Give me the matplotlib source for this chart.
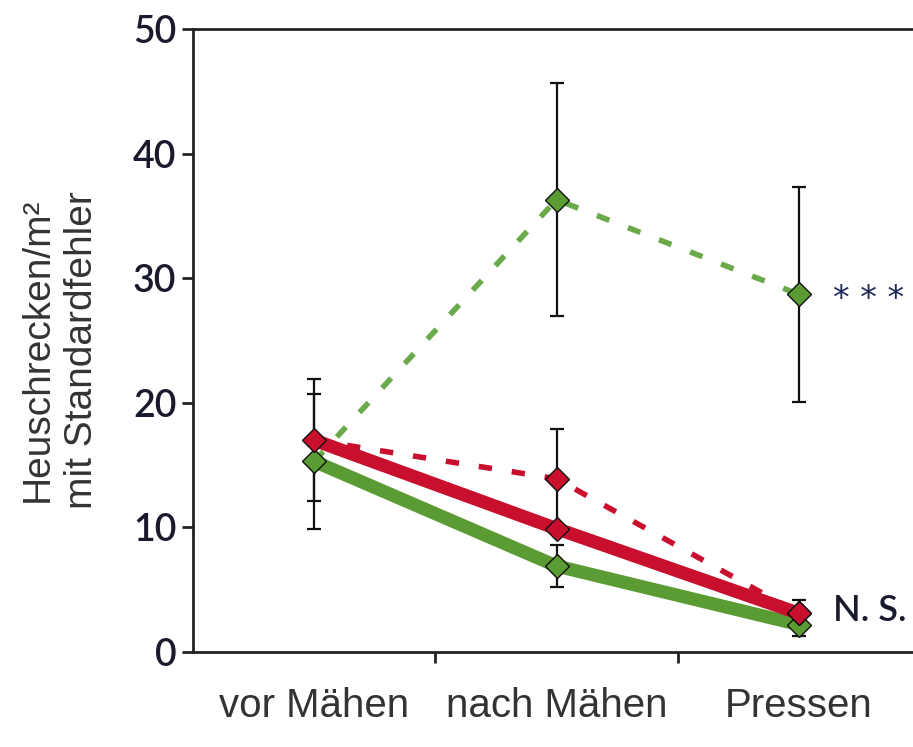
import matplotlib
matplotlib.use('Agg')
import matplotlib.pyplot as plt

# categories on the x axis
stages = ['vor Mähen', 'nach Mähen', 'Pressen']
xpos = [1, 2, 3]

# grasshoppers per m2 and standard errors
green_solid = [15.3, 6.9, 2.2]
green_solid_se = [5.4, 1.7, 0.9]
red_solid = [17.0, 9.9, 3.1]
red_solid_se = [4.9, None, 1.1]
red_dashed = [17.0, 13.9, 3.1]
red_dashed_se = [None, 4.0, None]
green_dashed = [15.3, 36.3, 28.7]
green_dashed_se = [None, 9.35, 8.6]

yticks = [0, 10, 20, 30, 40, 50]

RED = '#c8102e'
GREEN = '#5b9b34'
GREEN_D = '#6aaa4a'
INK = '#1a1a2e'

fig = plt.figure(figsize=(9.13, 7.47), dpi=100)
ax = fig.add_axes([0.2114, 0.1272, 0.7963, 0.834])

# thick lines first
ax.plot(xpos, green_solid, color=GREEN, lw=9.5, solid_capstyle='butt', zorder=2)
ax.plot(xpos, red_solid, color=RED, lw=9.5, solid_capstyle='butt', zorder=3)
ax.plot(xpos, red_dashed, color=RED, lw=4, dashes=(2.4, 3.6), zorder=2)
ax.plot(xpos, green_dashed, color=GREEN_D, lw=4, dashes=(2.4, 3.6), zorder=2)

# error bars
def errs(vals, se):
    xs, ys, es = [], [], []
    for x, v, e in zip(xpos, vals, se):
        if e is not None:
            xs.append(x)
            ys.append(v)
            es.append(e)
    ax.errorbar(xs, ys, yerr=es, fmt='none', ecolor='#111111', elinewidth=1.6,
                capsize=5, capthick=1.6, zorder=4)

errs(green_solid, green_solid_se)
errs(red_solid, red_solid_se)
errs(red_dashed, red_dashed_se)
errs(green_dashed, green_dashed_se)

# markers on top
mk = dict(marker='D', ms=12, mec='#111111', mew=1.0, ls='none', zorder=5)
ax.plot(xpos, green_solid, mfc=GREEN, **mk)
ax.plot(xpos, red_solid, mfc=RED, **mk)
ax.plot(xpos[1:], red_dashed[1:], mfc=RED, **mk)
ax.plot(xpos[1:], green_dashed[1:], mfc=GREEN, **mk)

ax.set_xlim(0.5, 3.5)
ax.set_ylim(0, 50)
ax.set_yticks(yticks)
ax.set_yticklabels([str(t) for t in yticks], fontfamily='Lato', fontsize=27,
                   fontweight='semibold', color=INK)
ax.set_xticks([1.5, 2.5])
ax.set_xticklabels(['', ''])
ax.set_xticks(xpos, minor=True)
ax.set_xticklabels(stages, minor=True, fontfamily='Liberation Sans', fontsize=29,
                   color='#333333')
ax.tick_params(axis='x', which='minor', length=0, pad=25)
ax.tick_params(axis='both', which='major', length=8, width=2, color='#222222',
               direction='out')
ax.tick_params(axis='y', pad=4)

for side in ['left', 'bottom', 'top']:
    ax.spines[side].set_linewidth(2)
    ax.spines[side].set_color('#222222')
ax.spines['right'].set_visible(False)

ax.set_ylabel('Heuschrecken/m²\nmit Standardfehler', fontfamily='Liberation Sans',
              fontsize=28, color='#333333', linespacing=1.3)
ax.yaxis.set_label_coords(-0.128, 0.485)

ax.text(3.14, 28.3, '* * *', fontsize=24, color='#1f2a5a',
        va='center', ha='left', fontfamily='DejaVu Sans')
ax.text(3.14, 3.3, 'N. S.', fontsize=26, color=INK, va='center', ha='left',
        fontfamily='Lato', fontweight='semibold')

fig.savefig('out.png', dpi=100)
